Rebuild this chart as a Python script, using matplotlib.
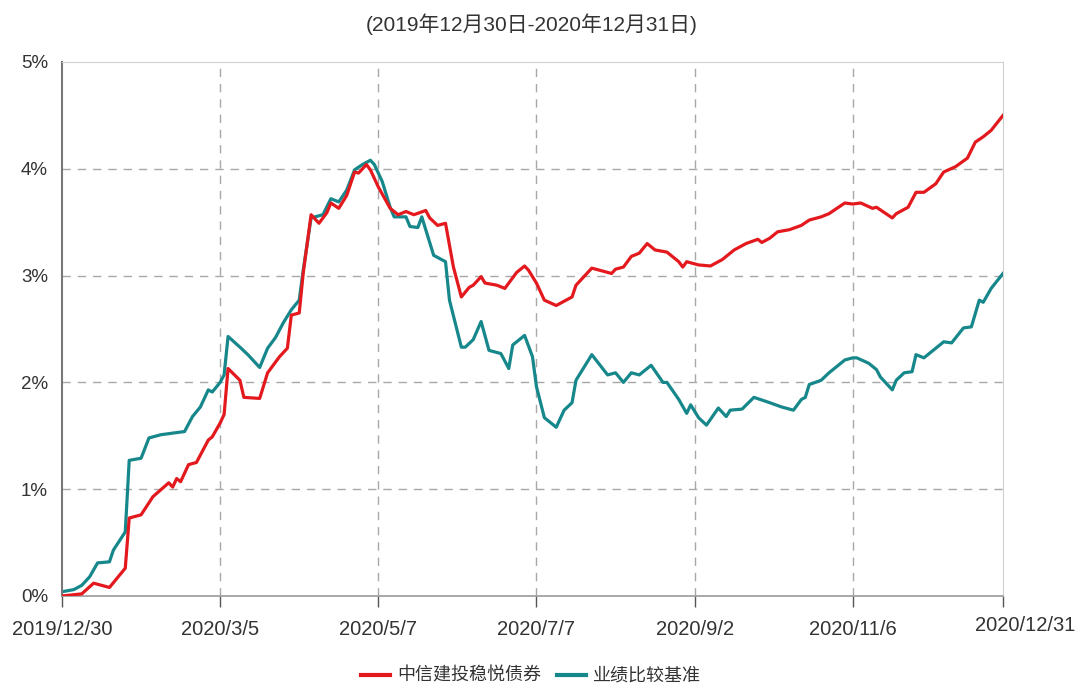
import matplotlib
matplotlib.use("Agg")
import matplotlib.pyplot as plt
import matplotlib.transforms as mtrans

plt.rcParams['font.family'] = ['Liberation Sans', 'Noto Sans CJK SC', 'DejaVu Sans']

title = "(2019年12月30日-2020年12月31日)"
series_names = ["中信建投稳悦债券", "业绩比较基准"]
tick_pos = [0, 40, 80, 120, 160, 200, 238]
tick_labels = ["2019/12/30", "2020/3/5", "2020/5/7", "2020/7/7", "2020/9/2", "2020/11/6", "2020/12/31"]
ytick_vals = [0, 1, 2, 3, 4, 5]

# trading-day index and cumulative return (%) of the fund
fund_idx = [0, 5, 8, 12, 16, 17, 20, 23, 27, 28, 29, 30, 32, 34, 37, 38, 40, 41, 42,
            45, 46, 50, 52, 55, 57, 58, 60, 61, 63, 65, 67, 68, 70, 72, 74, 75, 77, 78,
            80, 83, 85, 87, 89, 92, 93, 95, 97, 99, 101, 103, 104, 106, 107, 110, 112,
            115, 117, 118, 120, 122, 125, 129, 130, 134, 136, 139, 140, 142, 144, 146,
            148, 150, 153, 156, 157, 158, 161, 164, 167, 170, 173, 176, 177, 179, 181,
            184, 187, 189, 192, 194, 198, 200, 202, 205, 206, 210, 211, 214, 216, 218,
            221, 223, 226, 229, 231, 233, 235, 238]
fund_val = [0.00, 0.02, 0.12, 0.08, 0.26, 0.73, 0.76, 0.93, 1.06, 1.02, 1.10, 1.07, 1.23,
            1.25, 1.46, 1.49, 1.62, 1.70, 2.13,
            2.02, 1.86, 1.85, 2.09, 2.24, 2.32, 2.63, 2.65, 3.02, 3.57, 3.49, 3.59, 3.68,
            3.63, 3.75, 3.97, 3.96, 4.04, 3.99,
            3.83, 3.63, 3.57, 3.60, 3.57, 3.61, 3.54, 3.47, 3.49, 3.08, 2.80, 2.89, 2.91,
            2.99, 2.93, 2.91, 2.88,
            3.03, 3.09, 3.05, 2.93, 2.77, 2.72, 2.80, 2.91, 3.07, 3.05, 3.02, 3.06, 3.08,
            3.18, 3.21,
            3.30, 3.24, 3.22, 3.13, 3.08, 3.13, 3.10, 3.09, 3.15, 3.24, 3.30, 3.34, 3.31,
            3.35, 3.41,
            3.43, 3.47, 3.52, 3.55, 3.58, 3.68, 3.67, 3.68, 3.63, 3.64, 3.54, 3.58, 3.64,
            3.78, 3.78,
            3.86, 3.97, 4.02, 4.10, 4.25, 4.30, 4.36, 4.50]

# trading-day index and cumulative return (%) of the benchmark
bench_idx = [0, 3, 5, 7, 9, 12, 13, 16, 17, 20, 22, 25, 27, 31, 33, 35, 37, 38, 40, 41,
             42, 45, 47, 50, 52, 54, 56, 58, 60, 61, 63, 66, 68, 70, 72, 74, 76, 78, 79,
             81, 83, 84, 87, 88, 90, 91, 92, 94, 97, 98, 101, 102, 104, 106, 108, 111,
             113, 114, 117, 119, 120, 122, 125, 127, 129, 130, 134, 138, 140, 142, 144,
             146, 149, 152, 153, 156, 158, 159, 161, 163, 166, 168, 169, 172, 175, 179,
             182, 185, 187, 188, 189, 192, 194, 198, 200, 201, 204, 206, 207, 210, 211,
             213, 215, 216, 218, 220, 223, 225, 228, 230, 232, 233, 235, 238]
bench_val = [0.04, 0.06, 0.10, 0.18, 0.31, 0.32, 0.43, 0.60, 1.27, 1.29, 1.48, 1.51, 1.52,
             1.54, 1.68, 1.77, 1.93, 1.91, 2.00, 2.07,
             2.43, 2.33, 2.26, 2.14, 2.32, 2.42, 2.56, 2.68, 2.77, 3.05, 3.54, 3.57, 3.72,
             3.69, 3.80, 3.99, 4.04, 4.08, 4.04,
             3.88, 3.64, 3.55, 3.55, 3.46, 3.45, 3.55, 3.43, 3.19, 3.13, 2.77, 2.33, 2.33,
             2.40, 2.57, 2.30, 2.27,
             2.13, 2.35, 2.44, 2.24, 1.96, 1.67, 1.58, 1.74, 1.81, 2.02, 2.26, 2.07, 2.09,
             2.00, 2.09,
             2.07, 2.16, 2.00, 2.00, 1.84, 1.71, 1.79, 1.67, 1.60, 1.76, 1.68, 1.74, 1.75,
             1.86, 1.81,
             1.77, 1.74, 1.84, 1.86, 1.98, 2.02, 2.09, 2.21, 2.23, 2.23, 2.18, 2.12, 2.05,
             1.93, 2.02,
             2.09, 2.10, 2.26, 2.23, 2.29, 2.38, 2.37, 2.51, 2.52, 2.77, 2.75, 2.88, 3.02]

fund_color = "#e3191e"
bench_color = "#16878a"

fig = plt.figure(figsize=(10.78, 6.88), dpi=100)
ax = fig.add_axes([62 / 1078, 1 - 596 / 688, 941 / 1078, 534 / 688])

ax.plot(fund_idx, fund_val, color=fund_color, lw=2.3, label=series_names[0], zorder=3)
ax.plot(bench_idx, bench_val, color=bench_color, lw=2.3, label=series_names[1], zorder=2)

ax.set_xlim(0, 238)
ax.set_ylim(0, 5)

ax.set_yticks(ytick_vals)
ax.set_yticklabels([f"{v}%" for v in ytick_vals])
ax.set_xticks(tick_pos)
ax.set_xticklabels(tick_labels)

ax.tick_params(axis='y', length=0, pad=10, labelsize=13.5, labelcolor="#333333")
ax.tick_params(axis='x', length=8, width=1, color="#555555", pad=9, labelsize=14.5,
               labelcolor="#333333", direction='out')

# shift the last x label to the right as in the reference
lbls = ax.get_xticklabels()
off = mtrans.ScaledTranslation(22 / 100, 4 / 100, fig.dpi_scale_trans)
lbls[-1].set_transform(lbls[-1].get_transform() + off)

for v in ytick_vals[1:-1]:
    ax.axhline(v, color="#a8a8a8", lw=1, ls=(0, (6, 5)), zorder=1)
for p in tick_pos[1:-1]:
    ax.axvline(p, color="#a8a8a8", lw=1, ls=(0, (6, 5)), zorder=1)

ax.spines['left'].set_color("#777777")
ax.spines['left'].set_linewidth(1.5)
ax.spines['bottom'].set_color("#999999")
ax.spines['bottom'].set_linewidth(1.2)
ax.spines['top'].set_color("#d0d0d0")
ax.spines['right'].set_color("#d0d0d0")

fig.text(532 / 1078, 1 - 24 / 688, title, ha='center', va='center', fontsize=15,
         color="#333333", family=['Liberation Sans', 'Noto Sans CJK SC'])

leg = fig.legend(loc='center', bbox_to_anchor=(531 / 1078, 1 - 676 / 688), ncol=2,
                 frameon=False, handlelength=1.6, handletextpad=0.4,
                 columnspacing=0.9, prop={'family': ['Noto Sans CJK SC'], 'size': 13})
for line in leg.get_lines():
    line.set_linewidth(3)
for t in leg.get_texts():
    t.set_color("#333333")

fig.savefig("out.png", dpi=100)
